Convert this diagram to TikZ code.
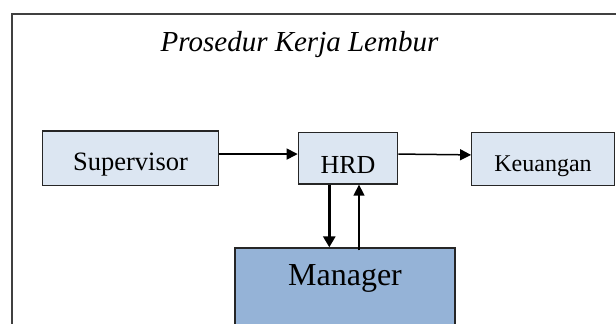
\documentclass[tikz,border=0pt]{standalone}
\usepackage{fontspec}
\setmainfont{Liberation Serif}
\usetikzlibrary{arrows.meta}
\definecolor{boxblue}{HTML}{DCE6F2}
\definecolor{mgrblue}{HTML}{95B3D7}
\definecolor{edgegray}{HTML}{262626}
\definecolor{framegray}{HTML}{404040}
\tikzset{
  unit/.style={draw=edgegray,line width=1.3pt,fill=boxblue,anchor=base,inner sep=0pt},
  flow/.style={line width=1.5pt,-{Triangle[length=11pt,width=11pt]}}
}
\begin{document}
\begin{tikzpicture}[x=1pt,y=-1pt]
\clip (0,0) rectangle (616,324);
\fill[white] (0,0) rectangle (616,324);
% bingkai
\draw[framegray,line width=2pt] (640,14) -- (12,14) -- (12,340);
\node[anchor=base,font=\fontsize{29}{33}\selectfont\itshape] (judul) at (299.5,51.7) {Prosedur Kerja Lembur};
% kotak
\node[unit,minimum width=175.6pt,text height=39pt,text depth=15.7pt,font=\fontsize{26.5}{30}\selectfont] (sup) at (130.5,170) {Supervisor};
\node[unit,minimum width=99.4pt,text height=40.6pt,text depth=10.7pt,font=\fontsize{26}{30}\selectfont] (hrd) at (348,173.3) {HRD};
\node[unit,minimum width=142.6pt,text height=39pt,text depth=14pt,font=\fontsize{24}{28}\selectfont] (keu) at (543,171.7) {Keuangan};
\node[unit,fill=mgrblue,minimum width=220pt,text height=37pt,text depth=60pt,font=\fontsize{32}{36}\selectfont] (mgr) at (345,285) {Manager};
% panah
\draw[flow] ([yshift=4.3pt]sup.east) -- ([yshift=4.3pt]hrd.west);
\draw[flow] ([yshift=4.3pt]hrd.east) -- ([yshift=4.3pt]keu.west);
\coordinate (turun) at ([xshift=-18.7pt]hrd.south);
\coordinate (naik) at ([xshift=11pt]hrd.south);
\draw[flow,line width=3pt,-{Triangle[length=11pt,width=12pt]}] (turun) -- (turun |- mgr.north);
\draw[flow] ([yshift=-3pt]naik |- mgr.north) -- (naik);
\end{tikzpicture}
\end{document}
